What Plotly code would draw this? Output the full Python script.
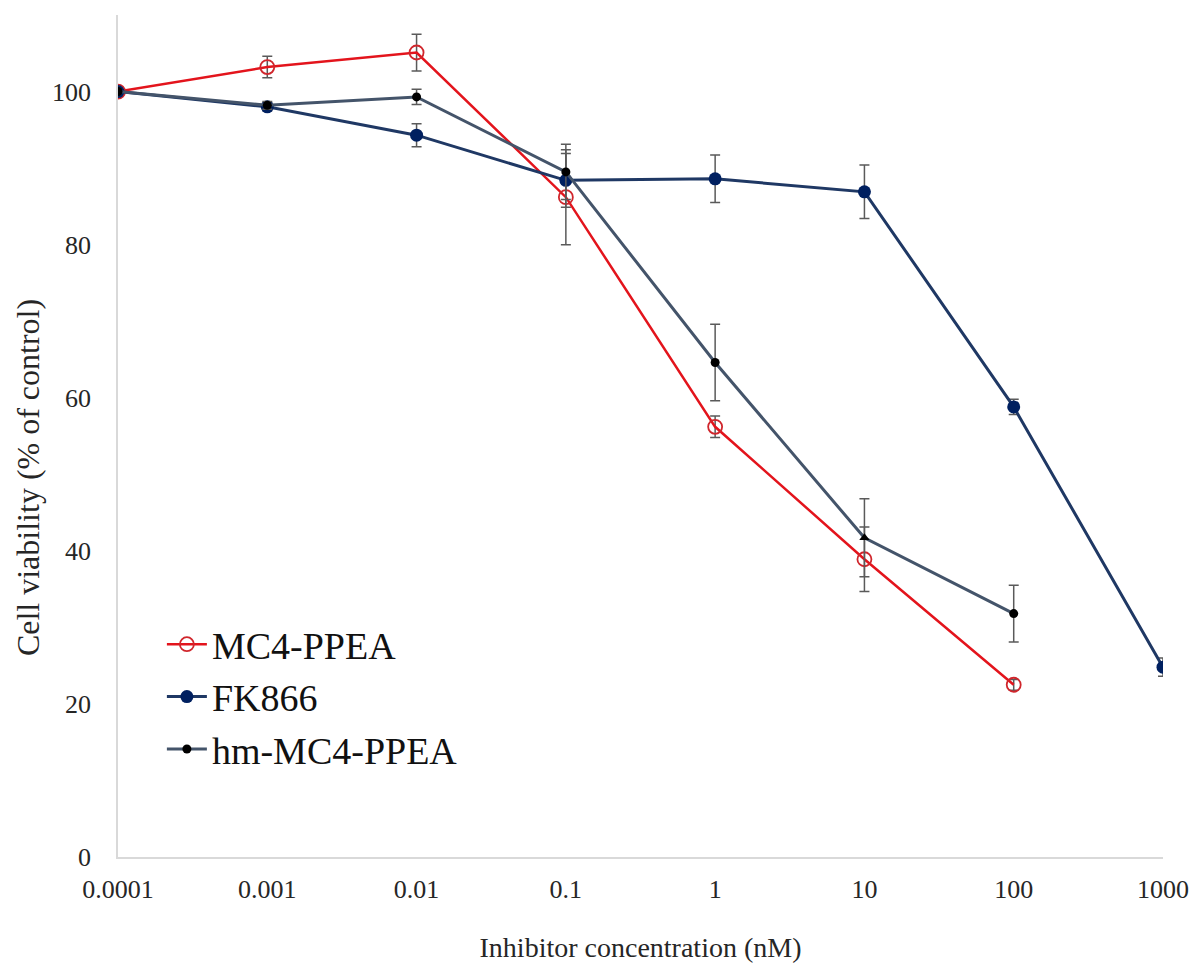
import plotly.graph_objects as go

mc4_x = [0.0001, 0.001, 0.01, 0.1, 1, 10, 100]
mc4_y = [100, 103.2, 105.1, 86.2, 56.2, 38.9, 22.5]
mc4_err = [0, 1.4, 2.4, 6.2, 1.4, 4.2, 0.7]

fk_x = [0.0001, 0.001, 0.01, 0.1, 1, 10, 100, 1000]
fk_y = [100, 98.0, 94.3, 88.4, 88.6, 86.9, 58.8, 24.8]
fk_err = [0, 0.5, 1.5, 3.5, 3.1, 3.5, 1.0, 1.2]

hm_x = [0.0001, 0.001, 0.01, 0.1, 1, 10, 100]
hm_y = [100, 98.2, 99.3, 89.5, 64.6, 41.7, 31.8]
hm_err = [0, 0.5, 1.0, 3.6, 5.0, 5.1, 3.7]
hm_symbols = ["circle", "circle", "circle", "circle", "circle", "triangle-up", "circle"]

tick_vals = [0.0001, 0.001, 0.01, 0.1, 1, 10, 100, 1000]
tick_text = ["0.0001", "0.001", "0.01", "0.1", "1", "10", "100", "1000"]
y_ticks = [0, 20, 40, 60, 80, 100]

FONT = "Liberation Serif"
ERR_COLOR = "#5a5a5a"
TXT = "#262626"

fig = go.Figure()

fig.add_trace(go.Scatter(
    x=mc4_x, y=mc4_y, name="MC4-PPEA", mode="lines+markers",
    line=dict(color="#e3141c", width=2.5),
    marker=dict(symbol="circle-open", size=14, color="#d0262c", line=dict(width=1.8, color="#d0262c")),
    error_y=dict(type="data", array=mc4_err, visible=True, color=ERR_COLOR, thickness=1.5, width=5),
))
fig.add_trace(go.Scatter(
    x=fk_x, y=fk_y, name="FK866", mode="lines+markers",
    line=dict(color="#1f3864", width=3),
    marker=dict(symbol="circle", size=13, color="#002060"),
    error_y=dict(type="data", array=fk_err, visible=True, color=ERR_COLOR, thickness=1.5, width=5),
))
fig.add_trace(go.Scatter(
    x=hm_x, y=hm_y, name="hm-MC4-PPEA", mode="lines+markers",
    line=dict(color="#44546a", width=3),
    marker=dict(symbol=hm_symbols, size=9, color="#000000"),
    error_y=dict(type="data", array=hm_err, visible=True, color=ERR_COLOR, thickness=1.5, width=5),
))

fig.add_annotation(
    text="Cell viability (% of control)", textangle=-90,
    xref="paper", yref="paper", x=0, y=0.45, xanchor="center", yanchor="middle",
    xshift=-90, showarrow=False,
    font=dict(family=FONT, size=32, color=TXT),
)

fig.update_layout(
    width=1201, height=972,
    margin=dict(l=118, r=33, t=15, b=115),
    paper_bgcolor="white", plot_bgcolor="white",
    font=dict(family=FONT, color=TXT),
    showlegend=True,
    legend=dict(
        x=0.042, y=0.19, xanchor="left", yanchor="middle",
        font=dict(family=FONT, size=38, color="#111111"),
        bgcolor="rgba(0,0,0,0)", tracegroupgap=0, itemwidth=40,
    ),
    xaxis=dict(
        type="log", range=[-4, 3],
        tickvals=tick_vals, ticktext=tick_text,
        showgrid=False, zeroline=False,
        showline=True, linecolor="#d9d9d9", linewidth=1.5,
        ticks="", tickfont=dict(family=FONT, size=26, color=TXT),
        ticklabelstandoff=8,
        title=dict(text="Inhibitor concentration (nM)", font=dict(family=FONT, size=28, color=TXT), standoff=34),
    ),
    yaxis=dict(
        range=[0, 110], tickvals=y_ticks,
        showgrid=False, zeroline=False,
        showline=True, linecolor="#d9d9d9", linewidth=1.5,
        ticks="", tickfont=dict(family=FONT, size=26, color=TXT),
        ticklabelstandoff=20,
    ),
)

fig.write_html("out.html")
